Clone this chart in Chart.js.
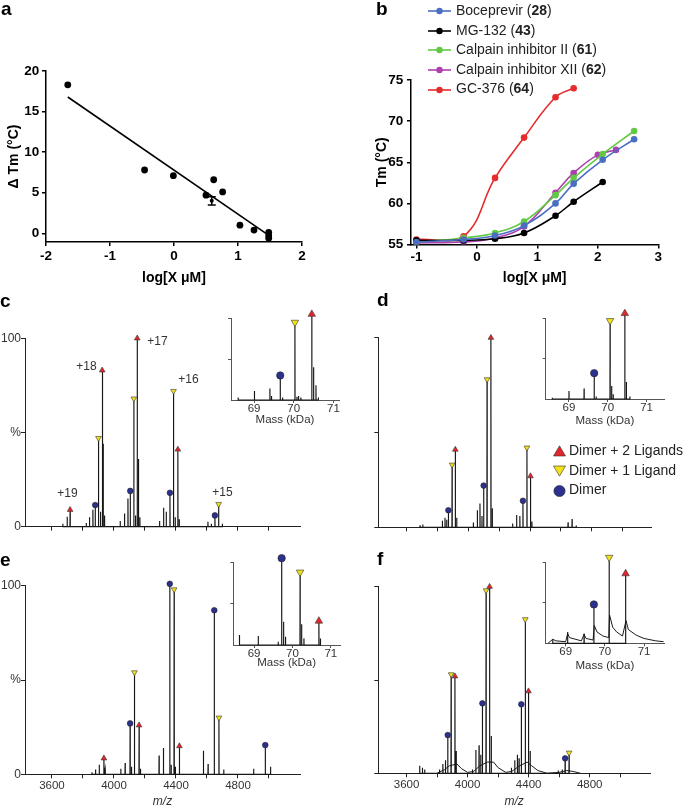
<!DOCTYPE html>
<html>
<head>
<meta charset="utf-8">
<title>Tm shift and native MS</title>
<script src="https://cdn.jsdelivr.net/npm/chart.js@4.4.1/dist/chart.umd.min.js"></script>
<style>
  html, body { margin: 0; padding: 0; background: #fff; }
  body { position: relative; width: 685px; height: 806px; overflow: hidden;
         font-family: "Liberation Sans", Arial, Helvetica, sans-serif; }
  #plots canvas { position: absolute; left: 0; top: 0; }
  .tag { position: absolute; z-index: 2; font-weight: bold; font-size: 19px; line-height: 19px; color: #000; }
  .leg { position: absolute; z-index: 2; font-size: 14px; line-height: 16px; color: #222; white-space: nowrap; }
  .leg svg { vertical-align: middle; margin-right: 5px; }
</style>
</head>
<body>
<div id="plots"></div>
<div class="tag" style="left:1px;top:-1px">a</div>
<div class="tag" style="left:376px;top:-1px">b</div>
<div class="tag" style="left:0px;top:291px">c</div>
<div class="tag" style="left:377px;top:290px">d</div>
<div class="tag" style="left:0px;top:550px">e</div>
<div class="tag" style="left:377px;top:549px">f</div>
<script>
const W = 685, H = 806
const FONT = '"Liberation Sans", Arial, Helvetica, sans-serif'
const TEXT = '#333'
const RED = '#e3262b', YELLOW = '#f3e21b', BLUE = '#2c3190'

// ---- panel a : delta Tm vs log conc ----
const aX = [-1.66, -0.46, -0.01, 0.5, 0.62, 0.76, 1.03, 1.25, 1.48, 1.48, 1.48]
const aY = [18.3, 7.8, 7.1, 4.7, 6.6, 5.1, 1.0, 0.4, 0.1, -0.3, -0.6]
const aErrX = [0.59]
const aErrY = [4.0]
const aErrSd = [0.5]
const aFitX = [-1.66, 1.47]
const aFitY = [16.8, -0.2]
const aXTicks = [-2, -1, 0, 1, 2]
const aYTicks = [0, 5, 10, 15, 20]

// ---- panel b : Tm curves ----
const bNames = ['Boceprevir', 'MG-132', 'Calpain inhibitor II', 'Calpain inhibitor XII', 'GC-376']
const bIds = ['28', '43', '61', '62', '64']
const bColors = ['#4a6fc2', '#000000', '#62c943', '#ad3fae', '#e52b2b']
const bocX = [-1, -0.22, 0.3, 0.78, 1.3, 1.6, 2.08, 2.6]
const bocY = [55.3, 55.6, 56.1, 57.3, 60.0, 62.4, 65.3, 67.8]
const mgX = [-1, -0.22, 0.3, 0.78, 1.3, 1.6, 2.08]
const mgY = [55.5, 55.5, 55.7, 56.4, 58.5, 60.2, 62.6]
const cal2X = [-1, -0.22, 0.3, 0.78, 1.3, 1.6, 2.08, 2.6]
const cal2Y = [55.3, 55.8, 56.4, 57.8, 61.0, 63.1, 66.0, 68.8]
const cal12X = [-1, -0.22, 0.3, 0.78, 1.3, 1.6, 2.0, 2.3]
const cal12Y = [55.2, 55.3, 55.8, 57.2, 61.3, 63.7, 65.9, 66.5]
const gcX = [-1, -0.22, 0.3, 0.78, 1.3, 1.6]
const gcY = [55.6, 56.0, 63.1, 68.0, 72.9, 74.0]
const bXTicks = [-1, 0, 1, 2, 3]
const bYTicks = [55, 60, 65, 70, 75]

// ---- spectra shared ----
const mzTicks = [3600, 3800, 4000, 4200, 4400, 4600, 4800, 5000]
const pctTicks = [0, 50, 100]
const pctLabels = ['0', '%', '100']
const kDaTicks = [69, 70, 71]
const insetYTicks = [50, 100]
const msLegend = ['Dimer + 2 Ligands', 'Dimer + 1 Ligand', 'Dimer']

// ---- panel c ----
const cPeaks = [[3670, 1.5], [3698, 5.3], [3821, 2], [3842, 5], [3864, 9], [3913, 8], [3930, 44], [3939, 6],
  [4040, 3], [4068, 7], [4090, 15], [4139, 6], [4158, 36], [4167, 5], [4294, 3], [4320, 10], [4337, 8],
  [4395, 5], [4421, 4], [4606, 2.6], [4628, 1.5], [4699, 1.5]]
const cDimer = [[3879, 11.5], [4105, 19], [4361, 18], [4651, 6]]
const cPlus1 = [[3900, 47], [4128, 68], [4384, 72], [4675, 12]]
const cPlus2 = [[3717, 9], [3924, 83], [4150, 100], [4412, 41]]
const cCharges = ['+19', '+18', '+17', '+16', '+15']
const cChargeAt = [[3700, 17.4], [3823, 85], [4281, 98], [4481, 78], [4700, 18]]
const cInsPeaks = [[68.6, 3], [69.01, 11], [69.4, 14], [69.44, 5], [69.72, 3], [70.08, 4], [70.12, 5],
  [70.18, 3], [70.5, 40], [70.56, 18], [70.62, 3]]
const cInsDimer = [[69.66, 30]]
const cInsPlus1 = [[70.03, 95]]
const cInsPlus2 = [[70.455, 105]]

// ---- panel d ----
const dPeaks = [[3686, 1], [3704, 1.5], [3831, 3.5], [3848, 5], [3859, 4], [3924, 5], [4032, 2.5], [4058, 9],
  [4075, 12.6], [4088, 6], [4155, 10], [4287, 2], [4313, 6.5], [4334, 6], [4412, 3], [4647, 2.6], [4673, 4.4], [4700, 1]]
const dDimer = [[3870, 9], [4099, 22], [4354, 14]]
const dPlus1 = [[3894, 33], [4121, 78], [4380, 42]]
const dPlus2 = [[3915, 41], [4146, 100], [4403, 27]]
const dInsPeaks = [[68.57, 1.5], [69.0, 10], [69.39, 13], [69.7, 3], [70.1, 16], [70.14, 6], [70.48, 21], [70.57, 3]]
const dInsDimer = [[69.65, 32]]
const dInsPlus1 = [[70.06, 97]]
const dInsPlus2 = [[70.44, 106]]

// ---- panel e ----
const ePeaks = [[3858, 1], [3881, 2.5], [3905, 5], [3943, 3], [4044, 3], [4072, 6], [4113, 4], [4171, 3],
  [4291, 10], [4319, 14], [4369, 5], [4396, 4], [4577, 12.5], [4607, 5.5], [4708, 2.6], [4901, 3], [5010, 4]]
const eDimer = [[4104, 27], [4360, 101], [4647, 87], [4976, 15.5]]
const ePlus1 = [[4132, 54], [4388, 98], [4677, 30]]
const ePlus2 = [[3935, 8.5], [4162, 26], [4422, 15]]
const eInsPeaks = [[68.62, 12], [69.11, 11], [69.63, 4], [69.77, 28], [69.82, 10], [70.24, 25], [70.3, 8], [70.73, 8]]
const eInsDimer = [[69.72, 105]]
const eInsPlus1 = [[70.2, 88]]
const eInsPlus2 = [[70.69, 29]]

// ---- panel f ----
const fPeaks = [[3686, 4], [3704, 3], [3719, 2], [3816, 2], [3838, 5], [3855, 7], [3925, 12], [4032, 2], [4054, 12.5],
  [4075, 15], [4086, 10], [4155, 20], [4287, 3], [4309, 7], [4326, 10], [4337, 8], [4410, 12], [4594, 1.5], [4620, 2]]
const fDimer = [[3870, 20.5], [4097, 37.5], [4352, 37], [4639, 8]]
const fPlus1 = [[3892, 53], [4121, 98], [4378, 82.5], [4665, 11]]
const fPlus2 = [[3917, 52], [4144, 100], [4399, 44]]
const fTrace = [[3800, 0], [3850, 2], [3880, 4], [3930, 5], [3960, 2.5], [4000, 0.5], [4040, 1], [4080, 4], [4130, 6],
  [4170, 6], [4200, 3], [4250, 0.5], [4290, 1], [4340, 4], [4390, 6], [4420, 4], [4460, 1.5], [4520, 0], [4600, 0.5],
  [4650, 1.5], [4690, 1], [4740, 0]]
const fInsPeaks = [[68.67, 5], [69.05, 14], [69.47, 12]]
const fInsDimer = [[69.72, 48]]
const fInsPlus1 = [[70.11, 106]]
const fInsPlus2 = [[70.53, 86]]
const fInsTrace = [[68.55, 0], [68.67, 5], [68.75, 3], [69.0, 2], [69.05, 12], [69.1, 7], [69.4, 3], [69.47, 11],
  [69.52, 6], [69.7, 4], [69.73, 22], [69.8, 14], [69.95, 9], [70.1, 7], [70.12, 35], [70.2, 20], [70.3, 14],
  [70.45, 9], [70.54, 28], [70.6, 17], [70.8, 10], [71.0, 6], [71.3, 3], [71.5, 2]]

// helpers ////////////////////////////////////////////////
const toXY = (xs, ys) => xs.map((x, i) => ({x, y: ys[i]}))
const pairs = list => list.map(([x, y]) => ({x, y}))

const spikes = (lists, w) => {
  let all = []
  for (let list of lists) for (let p of list) all.push(p)
  all.sort((p, q) => p[0] - q[0])
  let pts = []
  for (let [x, y] of all) pts.push({x: x - w, y: 0}, {x: x, y: y}, {x: x + w, y: 0})
  return pts
}

const layer = () => {
  let c = document.createElement('canvas')
  c.width = W
  c.height = H
  document.getElementById('plots').appendChild(c)
  return c
}

const axis = o => ({
  type: 'linear', min: o.min, max: o.max,
  afterBuildTicks: s => { s.ticks = o.ticks.map(v => ({value: v})) },
  border: {display: true, color: o.color, width: o.lw},
  grid: {drawOnChartArea: false, drawTicks: true, tickLength: o.tl, color: o.color, lineWidth: o.lw},
  ticks: {
    display: !!o.labels, autoSkip: false, maxRotation: 0, padding: o.pad || 0,
    font: {family: FONT, size: o.size || 12, weight: o.bold ? 'bold' : 'normal'},
    color: o.textColor || TEXT,
    callback: v => o.labels ? o.labels(v) : ''
  },
  title: {
    display: !!o.title, text: o.title || '', color: o.textColor || TEXT,
    font: {family: FONT, size: o.titleSize || 12, weight: o.bold ? 'bold' : 'normal',
      style: o.italic ? 'italic' : 'normal', lineHeight: 1},
    padding: -(o.titleSize || 12) / 2
  }
})

// area = [left, top, right, bottom] of the plot area on the page
const plot = (area, yW, xH, x, y, datasets, plugins = []) => {
  x.afterFit = s => { s.height = xH }
  y.afterFit = s => { s.width = yW }
  return new Chart(layer(), {
    type: 'scatter',
    data: {datasets},
    options: {
      responsive: false, animation: false, events: [], devicePixelRatio: 1,
      layout: {padding: {left: area[0] - yW, top: area[1], right: W - area[2], bottom: H - area[3] - xH}},
      plugins: {legend: {display: false}, tooltip: {enabled: false}},
      scales: {x, y}
    },
    plugins
  })
}

const errorBars = (xs, ys, sds) => ({
  id: 'errorBars',
  afterDatasetsDraw(chart) {
    const {ctx, scales: {x, y}} = chart
    ctx.save()
    ctx.strokeStyle = '#000'
    ctx.lineWidth = 1.5
    xs.forEach((v, i) => {
      const px = x.getPixelForValue(v)
      const lo = y.getPixelForValue(ys[i] - sds[i]), hi = y.getPixelForValue(ys[i] + sds[i])
      ctx.beginPath()
      ctx.moveTo(px, lo); ctx.lineTo(px, hi)
      ctx.moveTo(px - 4, lo); ctx.lineTo(px + 4, lo)
      ctx.moveTo(px - 4, hi); ctx.lineTo(px + 4, hi)
      ctx.stroke()
    })
    ctx.restore()
  }
})

const chargeLabels = (texts, at) => ({
  id: 'chargeLabels',
  afterDatasetsDraw(chart) {
    const {ctx, scales: {x, y}} = chart
    ctx.save()
    ctx.font = '12px ' + FONT
    ctx.fillStyle = TEXT
    ctx.textAlign = 'center'
    ctx.textBaseline = 'middle'
    texts.forEach((t, i) => ctx.fillText(t, x.getPixelForValue(at[i][0]), y.getPixelForValue(at[i][1])))
    ctx.restore()
  }
})

const specData = (peaks, dimer, plus1, plus2, trace, w, r) => {
  let ds = [
    {data: pairs(plus2), order: 0, pointStyle: 'triangle', pointRadius: r, pointBackgroundColor: RED,
      pointBorderColor: '#333', pointBorderWidth: 0.6, clip: false},
    {data: pairs(plus1), order: 0, pointStyle: 'triangle', pointRotation: 180, pointRadius: r, pointBackgroundColor: YELLOW,
      pointBorderColor: '#333', pointBorderWidth: 0.6, clip: false},
    {data: pairs(dimer), order: 0, pointStyle: 'circle', pointRadius: r * 0.86, pointBackgroundColor: BLUE,
      pointBorderColor: '#222', pointBorderWidth: 0.6, clip: false},
    {data: spikes([peaks, dimer, plus1, plus2], w), order: 1, showLine: true, borderColor: '#161616',
      borderWidth: 1.15, pointRadius: 0, clip: false}
  ]
  if (trace) ds.push({data: pairs(trace), order: 1, showLine: true, borderColor: '#1c1c1c', borderWidth: 1, pointRadius: 0})
  return ds
}

const mainX = (min, max, labels, title) => axis({min, max, ticks: mzTicks,
  labels: labels ? (v => v % 400 === 0 ? String(v) : '') : null,
  size: 11.5, color: '#222', lw: 1, tl: 4, pad: 0.8, title, titleSize: 12, italic: true})
const mainY = labels => axis({min: 0, max: 100, ticks: pctTicks,
  labels: labels ? (v => pctLabels[pctTicks.indexOf(v)]) : null,
  size: 12, color: '#222', lw: 1, tl: 4, pad: 0})
const insetX = (min, max) => axis({min, max, ticks: kDaTicks, labels: v => String(v),
  size: 11.5, color: '#555', lw: 1, tl: 3, pad: -1.5, title: 'Mass (kDa)', titleSize: 11.5})
const insetY = () => axis({min: 0, max: 100, ticks: insetYTicks, labels: null, color: '#555', lw: 1, tl: 3})

// panel a ////////////////////////////////////////////////
plot([46, 71, 302, 242], 32, 35.7,
  axis({min: -2, max: 2, ticks: aXTicks, labels: v => String(v), size: 13.5, bold: true, color: '#000',
    textColor: '#000', lw: 1.5, tl: 4, pad: 2, title: 'log[X \u03bcM]', titleSize: 14}),
  axis({min: -1.07, max: 20, ticks: aYTicks, labels: v => String(v), size: 13.5, bold: true, color: '#000',
    textColor: '#000', lw: 1.5, tl: 4, pad: 2.7, title: '\u0394 Tm (\u00b0C)', titleSize: 14}),
  [
    {data: toXY(aX, aY), pointRadius: 3.4, pointBackgroundColor: '#000', pointBorderWidth: 0},
    {data: toXY(aFitX, aFitY), showLine: true, borderColor: '#000', borderWidth: 1.6, pointRadius: 0},
    {data: toXY(aErrX, aErrY), pointRadius: 2, pointBackgroundColor: '#000', pointBorderWidth: 0}
  ],
  [errorBars(aErrX, aErrY, aErrSd)])

// panel b ////////////////////////////////////////////////
const bXs = [bocX, mgX, cal2X, cal12X, gcX]
const bYs = [bocY, mgY, cal2Y, cal12Y, gcY]
plot([411, 80, 658.3, 244.5], 29.3, 33.2,
  axis({min: -1.09, max: 3, ticks: bXTicks, labels: v => String(v), size: 13.5, bold: true, color: '#000',
    textColor: '#000', lw: 1.5, tl: 4, pad: 1.1, title: 'log[X \u03bcM]', titleSize: 14}),
  axis({min: 55, max: 75, ticks: bYTicks, labels: v => String(v), size: 13.5, bold: true, color: '#000',
    textColor: '#000', lw: 1.5, tl: 4, pad: 3.7, title: 'Tm (\u00b0C)', titleSize: 14}),
  bXs.map((xs, i) => ({
    data: toXY(xs, bYs[i]), showLine: true, tension: 0.4,
    borderColor: bColors[i], borderWidth: 1.6, pointRadius: 3.3,
    pointBackgroundColor: bColors[i], pointBorderWidth: 0
  })))

// panels c-f /////////////////////////////////////////////
plot([25, 338.3, 300, 526.7], 24, 10, mainX(3426, 5200, false), mainY(true),
  specData(cPeaks, cDimer, cPlus1, cPlus2, null, 1, 3.3), [chargeLabels(cCharges, cChargeAt)])
plot([231, 318.3, 339, 400], 10, 20, insetX(68.42, 71.14), insetY(),
  specData(cInsPeaks, cInsDimer, cInsPlus1, cInsPlus2, null, 0.003, 4.3))

plot([378.3, 337.7, 651.7, 527.3], 10, 10, mainX(3415, 5190, false), mainY(false),
  specData(dPeaks, dDimer, dPlus1, dPlus2, null, 1, 3.3))
plot([545.7, 318.3, 664, 399], 10, 21.7, insetX(68.40, 71.45), insetY(),
  specData(dInsPeaks, dInsDimer, dInsPlus1, dInsPlus2, null, 0.003, 4.3))

plot([25, 585.7, 300, 774.3], 24, 27.4, mainX(3426, 5200, true, 'm/z'), mainY(true),
  specData(ePeaks, eDimer, ePlus1, ePlus2, null, 1, 3.3))
plot([233.3, 562.3, 340, 645], 10, 18.3, insetX(68.46, 71.24), insetY(),
  specData(eInsPeaks, eInsDimer, eInsPlus1, eInsPlus2, null, 0.003, 4.3))

plot([378.3, 586.7, 650, 773.3], 10, 28.4, mainX(3415, 5195, true, 'm/z'), mainY(false),
  specData(fPeaks, fDimer, fPlus1, fPlus2, fTrace, 1, 3.3))
plot([545.7, 562.3, 664, 643.3], 10, 22.3, insetX(68.49, 71.51), insetY(),
  specData(fInsPeaks, fInsDimer, fInsPlus1, fInsPlus2, fInsTrace, 0.003, 4.3))

// legends (html text) ////////////////////////////////////
bNames.forEach((name, i) => {
  let row = document.createElement('div')
  row.className = 'leg'
  row.style.left = '428px'
  row.style.top = (2 + i * 19.6) + 'px'
  row.innerHTML = `<svg width="23" height="8"><line x1="0" y1="4" x2="23" y2="4" stroke="${bColors[i]}" stroke-width="1.6"/>` +
    `<circle cx="11.5" cy="4" r="3.2" fill="${bColors[i]}"/></svg>${name} (<b>${bIds[i]}</b>)`
  document.body.appendChild(row)
})

const msShapes = [
  `<polygon points="6.5,0.8 12.5,11 0.5,11" fill="${RED}" stroke="#333" stroke-width="0.6"/>`,
  `<polygon points="0.5,1 12.5,1 6.5,11.2" fill="${YELLOW}" stroke="#333" stroke-width="0.6"/>`,
  `<circle cx="6.5" cy="6" r="5.6" fill="${BLUE}" stroke="#222" stroke-width="0.6"/>`
]
msLegend.forEach((name, i) => {
  let row = document.createElement('div')
  row.className = 'leg'
  row.style.left = '553px'
  row.style.top = (442 + i * 19.7) + 'px'
  row.innerHTML = `<svg width="13" height="12" style="margin-right:3px">${msShapes[i]}</svg>${name}`
  document.body.appendChild(row)
})
</script>
</body>
</html>
